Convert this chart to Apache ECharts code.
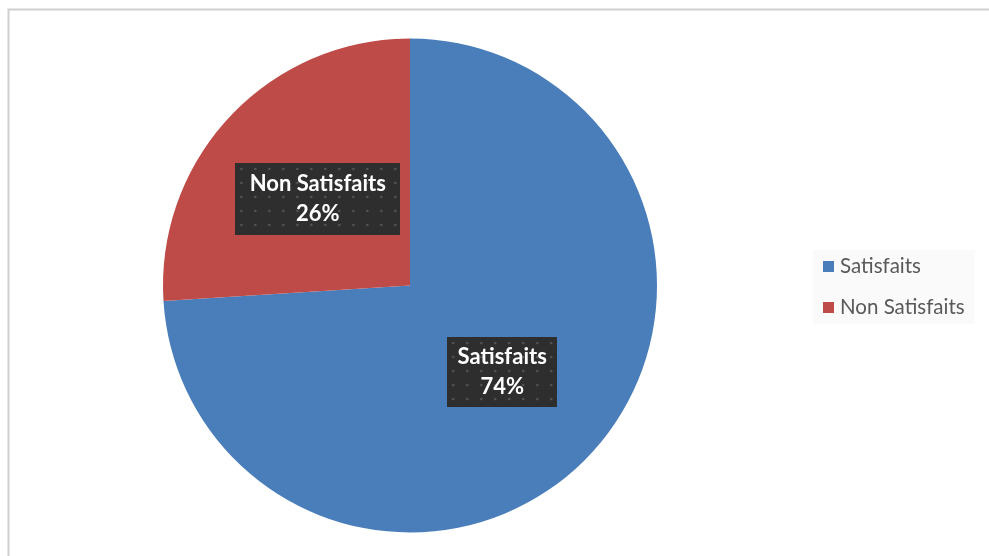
<!DOCTYPE html>
<html>
<head>
<meta charset="utf-8">
<script src="https://cdn.jsdelivr.net/npm/echarts@6/dist/echarts.min.js"></script>
<style>
  html, body { margin: 0; padding: 0; background: #ffffff; }
  #chart { width: 989px; height: 556px; }
</style>
</head>
<body>
<div id="chart"></div>
<script>
// Survey result: share of satisfied vs. not satisfied respondents (%)
const categories = ['Satisfaits', 'Non Satisfaits'];
const shares = [74, 26];
const colors = ['#4a7ebb', '#be4b48'];

// Dark dotted tile used behind the data labels
function dottedTile(w, h) {
  const c = document.createElement('canvas');
  c.width = w; c.height = h;
  const g = c.getContext('2d');
  g.fillStyle = '#2e2e2e';
  g.fillRect(0, 0, w, h);
  g.fillStyle = 'rgba(120,120,120,0.55)';
  for (let y = 6; y < h; y += 14) {
    for (let x = 6; x < w; x += 14) {
      g.beginPath();
      g.arc(x, y, 1.3, 0, Math.PI * 2);
      g.fill();
    }
  }
  return c;
}

const labelBoxes = [[110, 70], [165, 72]];

const chart = echarts.init(document.getElementById('chart'), null, { renderer: 'canvas' });

chart.setOption({
  animation: false,
  backgroundColor: '#ffffff',
  graphic: [{
    type: 'rect',
    shape: { x: 8.5, y: 9.5, width: 1100, height: 700 },
    style: { fill: 'none', stroke: '#cfcfcf', lineWidth: 2 },
    silent: true
  }],
  legend: {
    orient: 'vertical',
    left: 813,
    top: 250,
    itemWidth: 11,
    itemHeight: 11,
    itemGap: 20,
    icon: 'rect',
    padding: [6, 10],
    backgroundColor: '#fafafa',
    textStyle: { fontFamily: 'Lato', fontSize: 20.5, color: '#595959', padding: [0, 0, 0, 1] },
    data: categories
  },
  series: [{
    type: 'pie',
    center: [410, 285.5],
    radius: 247,
    startAngle: 90,
    clockwise: true,
    avoidLabelOverlap: false,
    itemStyle: { borderWidth: 0 },
    label: {
      show: true,
      position: 'inside',
      color: '#ffffff',
      fontFamily: 'Lato',
      fontWeight: 'bold',
      fontSize: 22,
      lineHeight: 30,
      align: 'center',
      shadowColor: 'rgba(0,0,0,0.55)',
      shadowBlur: 7,
      shadowOffsetX: 3,
      shadowOffsetY: 3,
      formatter: p => p.name + '\n' + p.value + '%'
    },
    labelLine: { show: false },
    emphasis: { disabled: true },
    data: categories.map((name, i) => ({
      name,
      value: shares[i],
      itemStyle: { color: colors[i] },
      label: {
        width: labelBoxes[i][0],
        height: labelBoxes[i][1] - 10,
        padding: [7, 0, 3, 0],
        backgroundColor: { image: dottedTile(labelBoxes[i][0], labelBoxes[i][1]) }
      }
    }))
  }]
});
</script>
</body>
</html>
